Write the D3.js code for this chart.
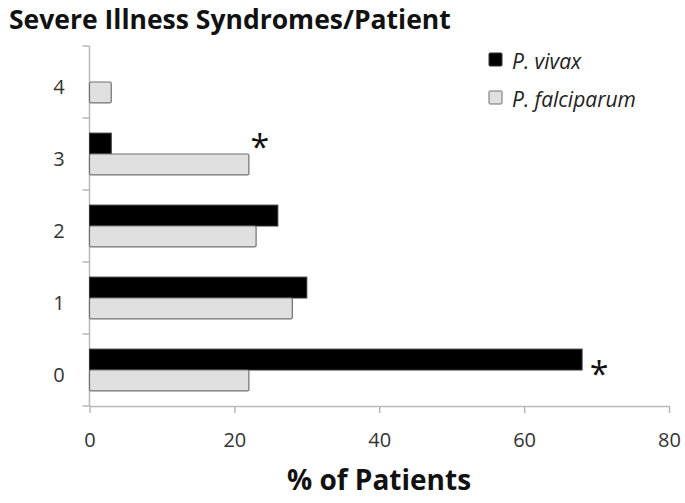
<!DOCTYPE html>
<html>
<head>
<meta charset="utf-8">
<script src="https://cdn.jsdelivr.net/npm/d3@7"></script>
<style>
  body { margin: 0; background: #fff; }
  text { font-family: "Open Sans", "Liberation Sans", sans-serif; }
</style>
</head>
<body>
<div id="chart"></div>
<script>
// data
var categories = ["4", "3", "2", "1", "0"];
var vivax = [null, 3, 26, 30, 68];
var falciparum = [3, 22, 23, 28, 22];
var xTicks = [0, 20, 40, 60, 80];
var stars = [{cat: "3", value: 22, series: "falciparum"}, {cat: "0", value: 68, series: "vivax"}];

var width = 685, height = 503;
var margin = {top: 46, right: 16, bottom: 97, left: 89.5};

var svg = d3.select("#chart")
  .append("svg")
    .attr("width", width)
    .attr("height", height);

var x = d3.scaleLinear()
  .domain([0, 80])
  .range([margin.left, width - margin.right]);

var y = d3.scaleBand()
  .domain(categories)
  .range([margin.top, height - margin.bottom])
  .paddingInner(0.42)
  .paddingOuter(0.21);

// band positions with ticks at boundaries
var yOuter = d3.scaleBand()
  .domain(categories)
  .range([margin.top, height - margin.bottom]);

var half = y.bandwidth() / 2;

// title
svg.append("text")
  .attr("x", 9)
  .attr("y", 29)
  .style("font-size", "26.5px")
  .style("font-weight", "bold")
  .style("fill", "#111")
  .text("Severe Illness Syndromes/Patient");

// y axis line + boundary ticks
var axisColor = "#b8b8b8";
svg.append("line")
  .attr("x1", x(0)).attr("x2", x(0))
  .attr("y1", margin.top).attr("y2", height - margin.bottom)
  .attr("stroke", axisColor).attr("stroke-width", 1.5);

var bounds = categories.map(function(c) { return yOuter(c); }).concat([height - margin.bottom]);
svg.selectAll(".ytick")
  .data(bounds)
  .enter()
  .append("line")
    .attr("x1", x(0) - 7).attr("x2", x(0))
    .attr("y1", function(d) { return d; })
    .attr("y2", function(d) { return d; })
    .attr("stroke", axisColor).attr("stroke-width", 1.5);

svg.selectAll(".ylab")
  .data(categories)
  .enter()
  .append("text")
    .attr("x", 59)
    .attr("y", function(d) { return yOuter(d) + yOuter.bandwidth() / 2 + 12; })
    .attr("text-anchor", "middle")
    .style("font-size", "20px")
    .style("fill", "#333")
    .text(function(d) { return d; });

// x axis
var xAxis = svg.append("g")
  .attr("transform", "translate(0," + (height - margin.bottom) + ")")
  .call(d3.axisBottom(x).tickValues(xTicks).tickSize(7).tickSizeOuter(0));
xAxis.select(".domain").attr("stroke", axisColor).attr("stroke-width", 1.5);
xAxis.selectAll(".tick line").attr("stroke", axisColor).attr("stroke-width", 1.5);
xAxis.selectAll(".tick text")
  .attr("y", 41)
  .attr("dy", 0)
  .style("font-size", "20px")
  .style("font-family", "'Open Sans', sans-serif")
  .style("fill", "#333");

// bars
svg.selectAll(".vivax")
  .data(categories.map(function(c, i) { return {cat: c, v: vivax[i]}; }).filter(function(d) { return d.v != null; }))
  .enter()
  .append("rect")
    .attr("x", x(0))
    .attr("y", function(d) { return y(d.cat); })
    .attr("width", function(d) { return x(d.v) - x(0); })
    .attr("height", half)
    .attr("fill", "#000")
    .attr("stroke", "#333")
    .attr("stroke-width", 1);

svg.selectAll(".falc")
  .data(categories.map(function(c, i) { return {cat: c, v: falciparum[i]}; }))
  .enter()
  .append("rect")
    .attr("x", x(0))
    .attr("y", function(d) { return y(d.cat) + half; })
    .attr("width", function(d) { return x(d.v) - x(0); })
    .attr("height", half)
    .attr("rx", 1.5)
    .attr("fill", "#e0e0e0")
    .attr("stroke", "#707070")
    .attr("stroke-width", 1.2);

// significance stars
svg.selectAll(".star")
  .data(stars)
  .enter()
  .append("text")
    .attr("x", function(d) { return d.series == "vivax" ? x(d.value) + 17 : x(d.value) + 11; })
    .attr("y", function(d) { return d.series == "vivax" ? y(d.cat) + half + 16 : y(d.cat) + 26; })
    .attr("text-anchor", "middle")
    .style("font-size", "34px")
    .style("fill", "#111")
    .text("*");

// legend
var legend = [{name: "P. vivax", fill: "#000", stroke: "#333"}, {name: "P. falciparum", fill: "#e0e0e0", stroke: "#707070"}];
var lg = svg.selectAll(".legend")
  .data(legend)
  .enter()
  .append("g")
    .attr("transform", function(d, i) { return "translate(489," + (53 + i * 38) + ")"; });
lg.append("rect")
  .attr("width", 13).attr("height", 13)
  .attr("rx", 1)
  .attr("fill", function(d) { return d.fill; })
  .attr("stroke", function(d) { return d.stroke; });
lg.append("text")
  .attr("x", 23)
  .attr("y", 16)
  .style("font-size", "21px")
  .style("font-style", "italic")
  .style("fill", "#222")
  .text(function(d) { return d.name; });

// x axis title
svg.append("text")
  .attr("x", 379)
  .attr("y", 490)
  .attr("text-anchor", "middle")
  .style("font-size", "28px")
  .style("font-weight", "bold")
  .style("fill", "#111")
  .text("% of Patients");
</script>
</body>
</html>
